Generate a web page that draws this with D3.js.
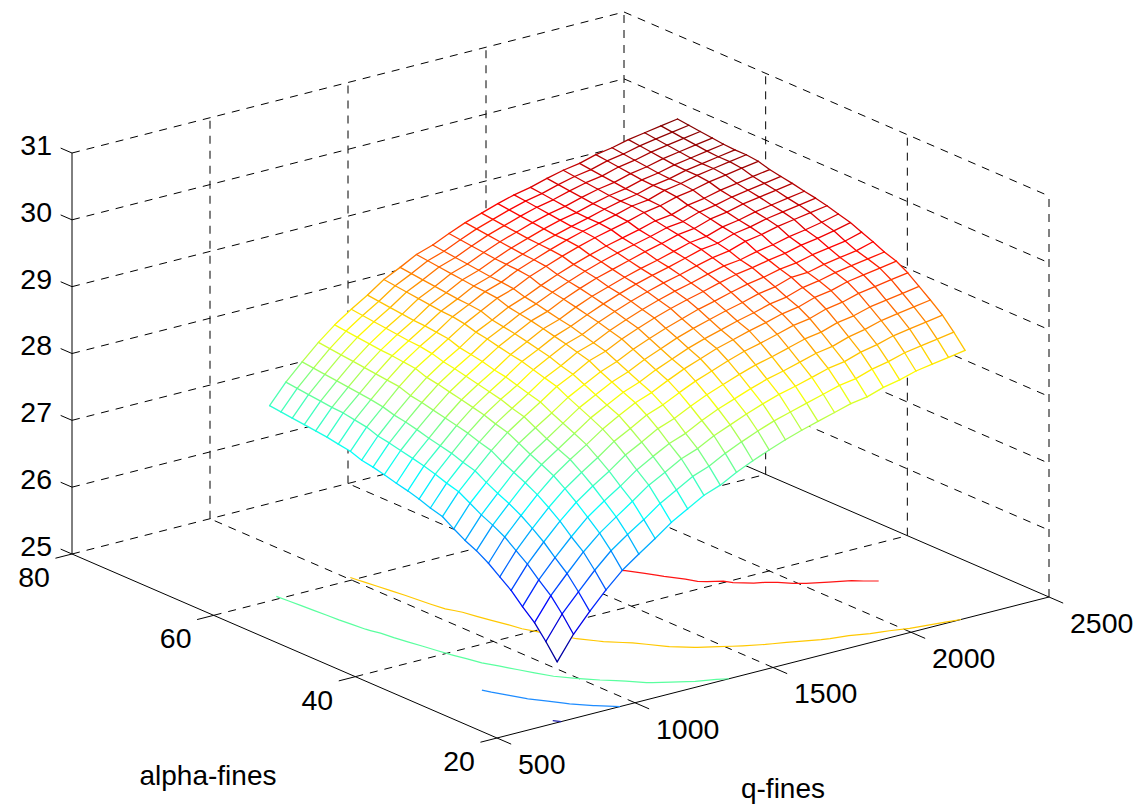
<!DOCTYPE html>
<html>
<head>
<meta charset="utf-8">
<title>q-fines alpha-fines mesh</title>
<script src="https://cdn.jsdelivr.net/npm/d3@7"></script>
<style>
body { margin: 0; background: white; }
text { font-family: "Liberation Sans", Arial, sans-serif; font-size: 28.5px; fill: #000; }
text.title { font-size: 28px; }
</style>
</head>
<body>
<div id="chart"></div>
<script>
const qValues = [718,777,836,895,954,1014,1073,1132,1191,1250,1309,1368,1427,1486,1545,1604,1663,1723,1782,1841,1900,1959,2018,2077,2136,2196];
const alphaValues = [20,21.6,23.2,24.9,26.5,28.1,29.7,31.4,33,34.6,36.2,37.9,39.5,41.1,42.7,44.4,46,47.6,49.2,50.9,52.5,54.1,55.7,57.4,59,60.6];

// one row per alpha value, one column per q value
const zRows = [
    [25.91,26.26,26.54,26.80,27.03,27.21,27.38,27.56,27.70,27.84,27.93,28.06,28.17,28.27,28.36,28.44,28.51,28.58,28.65,28.69,28.77,28.82,28.89,28.93,28.97,29.01],
    [26.14,26.49,26.76,27.02,27.25,27.43,27.59,27.77,27.91,28.05,28.14,28.27,28.38,28.48,28.57,28.64,28.71,28.78,28.85,28.89,28.97,29.02,29.09,29.13,29.17,29.21],
    [26.35,26.69,26.96,27.22,27.44,27.62,27.79,27.97,28.10,28.24,28.33,28.46,28.56,28.66,28.75,28.83,28.89,28.96,29.03,29.07,29.15,29.20,29.27,29.31,29.35,29.39],
    [26.51,26.85,27.12,27.37,27.60,27.78,27.94,28.12,28.26,28.39,28.48,28.61,28.72,28.81,28.90,28.98,29.04,29.11,29.18,29.22,29.30,29.35,29.42,29.46,29.50,29.54],
    [26.68,27.01,27.28,27.53,27.75,27.93,28.09,28.27,28.40,28.54,28.63,28.75,28.86,28.95,29.04,29.12,29.18,29.25,29.32,29.36,29.44,29.48,29.55,29.59,29.63,29.67],
    [26.81,27.14,27.41,27.66,27.88,28.06,28.22,28.40,28.53,28.67,28.76,28.88,28.99,29.08,29.17,29.25,29.31,29.38,29.45,29.49,29.57,29.61,29.68,29.72,29.76,29.80],
    [26.94,27.27,27.53,27.78,28.00,28.18,28.34,28.51,28.65,28.78,28.87,28.99,29.10,29.19,29.28,29.35,29.42,29.48,29.55,29.59,29.67,29.71,29.78,29.82,29.86,29.90],
    [27.05,27.37,27.63,27.88,28.09,28.26,28.43,28.60,28.73,28.86,28.95,29.07,29.17,29.27,29.35,29.42,29.49,29.55,29.62,29.66,29.74,29.78,29.84,29.88,29.92,29.96],
    [27.13,27.45,27.71,27.96,28.17,28.34,28.51,28.68,28.81,28.94,29.03,29.15,29.25,29.35,29.43,29.50,29.57,29.63,29.70,29.74,29.82,29.83,29.89,29.93,29.97,30.04],
    [27.23,27.55,27.80,28.04,28.26,28.43,28.59,28.76,28.89,29.02,29.11,29.23,29.33,29.42,29.50,29.58,29.64,29.71,29.77,29.81,29.87,29.90,29.96,30.00,30.04,30.11],
    [27.34,27.65,27.90,28.14,28.35,28.52,28.68,28.85,28.97,29.11,29.19,29.31,29.41,29.50,29.58,29.65,29.71,29.78,29.84,29.88,29.93,29.97,30.03,30.07,30.12,30.18],
    [27.39,27.70,27.95,28.19,28.40,28.57,28.73,28.90,29.02,29.16,29.24,29.36,29.46,29.55,29.63,29.70,29.76,29.83,29.89,29.92,29.98,30.02,30.08,30.12,30.17,30.23],
    [27.45,27.76,28.01,28.25,28.46,28.63,28.78,28.95,29.08,29.21,29.29,29.41,29.51,29.60,29.68,29.75,29.81,29.88,29.94,29.98,30.06,30.10,30.16,30.20,30.24,30.28],
    [27.50,27.81,28.05,28.29,28.50,28.67,28.83,29.00,29.12,29.25,29.34,29.45,29.55,29.64,29.72,29.79,29.85,29.92,29.99,30.02,30.10,30.14,30.20,30.24,30.28,30.32],
    [27.54,27.85,28.09,28.33,28.54,28.71,28.86,29.03,29.16,29.29,29.37,29.49,29.59,29.67,29.75,29.82,29.88,29.95,30.02,30.05,30.13,30.17,30.23,30.27,30.31,30.35],
    [27.59,27.89,28.14,28.37,28.58,28.75,28.91,29.07,29.20,29.33,29.41,29.53,29.63,29.72,29.79,29.86,29.93,29.99,30.06,30.09,30.17,30.21,30.27,30.31,30.35,30.39],
    [27.63,27.93,28.18,28.41,28.62,28.79,28.94,29.11,29.23,29.36,29.45,29.56,29.66,29.75,29.83,29.90,29.96,30.02,30.09,30.12,30.20,30.24,30.30,30.34,30.38,30.42],
    [27.66,27.96,28.21,28.44,28.65,28.82,28.97,29.14,29.26,29.39,29.48,29.59,29.69,29.78,29.86,29.93,29.99,30.05,30.12,30.15,30.23,30.27,30.33,30.37,30.41,30.45],
    [27.72,28.02,28.26,28.50,28.71,28.87,29.03,29.19,29.32,29.45,29.53,29.65,29.74,29.83,29.91,29.98,30.04,30.10,30.17,30.21,30.28,30.32,30.38,30.42,30.46,30.50],
    [27.75,28.05,28.29,28.52,28.73,28.90,29.05,29.22,29.34,29.47,29.55,29.67,29.76,29.85,29.93,30.00,30.06,30.12,30.19,30.22,30.30,30.34,30.40,30.44,30.48,30.52],
    [27.78,28.08,28.31,28.54,28.75,28.91,29.07,29.23,29.35,29.48,29.56,29.68,29.77,29.86,29.93,30.00,30.06,30.13,30.19,30.23,30.30,30.34,30.40,30.44,30.48,30.52],
    [27.80,28.09,28.33,28.56,28.76,28.93,29.08,29.25,29.37,29.50,29.58,29.69,29.79,29.87,29.95,30.02,30.07,30.14,30.20,30.24,30.31,30.35,30.41,30.45,30.49,30.53],
    [27.82,28.11,28.35,28.58,28.78,28.95,29.10,29.27,29.39,29.52,29.60,29.71,29.81,29.89,29.97,30.04,30.09,30.16,30.22,30.26,30.33,30.37,30.43,30.47,30.51,30.55],
    [27.84,28.13,28.37,28.60,28.80,28.97,29.12,29.29,29.41,29.54,29.62,29.73,29.83,29.91,29.99,30.06,30.11,30.18,30.24,30.28,30.35,30.39,30.45,30.49,30.53,30.57],
    [27.86,28.15,28.39,28.62,28.82,28.99,29.14,29.31,29.43,29.56,29.64,29.75,29.85,29.93,30.01,30.08,30.13,30.20,30.26,30.30,30.37,30.41,30.47,30.51,30.55,30.59],
    [27.88,28.17,28.41,28.64,28.84,29.01,29.16,29.33,29.45,29.58,29.66,29.77,29.87,29.95,30.03,30.10,30.15,30.22,30.28,30.32,30.39,30.43,30.49,30.53,30.57,30.61]
];

const qTicks = [500, 1000, 1500, 2000, 2500];
const alphaTicks = [20, 40, 60, 80];
const zTicks = [25, 26, 27, 28, 29, 30, 31];
const contourLevels = [26, 27, 28, 29, 30];
const contourColors = ["#1e1eaa", "#1e8cff", "#5aff9f", "#ffc800", "#ff1414"];

const width = 1136, height = 806;
const origin = {x: 497, y: 738};

// the box is drawn in a fixed parallel view: each data axis moves both screen x and y
const qToX = d3.scaleLinear().domain([500, 2500]).range([0, 552]);
const qToY = d3.scaleLinear().domain([500, 2500]).range([0, -141]);
const aToX = d3.scaleLinear().domain([20, 80]).range([0, -425]);
const aToY = d3.scaleLinear().domain([20, 80]).range([0, -184]);
const zToY = d3.scaleLinear().domain([25, 31]).range([0, -401]);

function project(q, a, z) {
    return [origin.x + qToX(q) + aToX(a), origin.y + qToY(q) + aToY(a) + zToY(z)];
}

// jet colormap stops over the range of the surface
const zMin = d3.min(zRows.flat()), zMax = d3.max(zRows.flat());
const jetStops = [0, 0.125, 0.375, 0.625, 0.875, 1];
const jetColors = ["#000080", "#0000ff", "#00ffff", "#ffff00", "#ff0000", "#800000"];
const color = d3.scaleLinear()
    .domain(jetStops.map(t => zMin + t * (zMax - zMin)))
    .range(jetColors);
const contourColor = d3.scaleOrdinal().domain(contourLevels).range(contourColors);

const svg = d3.select("#chart").append("svg")
    .attr("width", width)
    .attr("height", height)
    .style("display", "block");

function addLine(g, p0, p1, dashed) {
    g.append("line")
        .attr("x1", p0[0]).attr("y1", p0[1])
        .attr("x2", p1[0]).attr("y2", p1[1])
        .attr("stroke", "#000")
        .attr("stroke-width", 1)
        .attr("stroke-dasharray", dashed ? "8 7" : null);
}

// dashed grid on floor and walls
const grid = svg.append("g");
qTicks.slice(1, -1).forEach(q => {
    addLine(grid, project(q, 20, 25), project(q, 80, 25), true);
    addLine(grid, project(q, 80, 25), project(q, 80, 31), true);
});
alphaTicks.slice(1, -1).forEach(a => {
    addLine(grid, project(500, a, 25), project(2500, a, 25), true);
    addLine(grid, project(2500, a, 25), project(2500, a, 31), true);
});
addLine(grid, project(2500, 80, 25), project(2500, 80, 31), true);
addLine(grid, project(2500, 20, 25), project(2500, 20, 31), true);
zTicks.slice(1).forEach(z => {
    addLine(grid, project(500, 80, z), project(2500, 80, z), true);
    addLine(grid, project(2500, 80, z), project(2500, 20, z), true);
});
addLine(grid, project(500, 80, 25), project(2500, 80, 25), true);

// solid axis lines and tick marks
const axes = svg.append("g");
addLine(axes, project(500, 80, 25), project(500, 80, 31), false);
addLine(axes, project(500, 20, 25), project(500, 80, 25), false);
addLine(axes, project(500, 20, 25), project(2500, 20, 25), false);
addLine(axes, project(2500, 80, 25), project(2500, 20, 25), false);
qTicks.forEach(q => addLine(axes, project(q, 20, 25), project(q, 18, 25), false));
alphaTicks.forEach(a => addLine(axes, project(500, a, 25), project(440, a, 25), false));
zTicks.forEach(z => addLine(axes, project(500, 80, z), project(500, 81.6, z), false));

// contour lines lying on the floor
const nq = qValues.length, na = alphaValues.length;
const qFromGrid = d3.scaleLinear().domain(d3.range(nq)).range(qValues);
const aFromGrid = d3.scaleLinear().domain(d3.range(na)).range(alphaValues);
const contourLine = d3.line();

function insideGrid(p) {
    return p[0] >= 0.5 && p[0] <= nq - 0.5 && p[1] >= 0.5 && p[1] <= na - 0.5;
}

// d3.contours closes its rings along the border of the grid, keep only the open part
function openPieces(ring) {
    const pts = ring.slice(0, -1);
    const start = pts.findIndex(p => !insideGrid(p));
    const rotated = start < 0 ? pts : pts.slice(start).concat(pts.slice(0, start));
    const pieces = [];
    let cur = [];
    rotated.forEach(p => {
        if (insideGrid(p)) {
            cur.push(p);
        } else if (cur.length) {
            pieces.push(cur);
            cur = [];
        }
    });
    if (cur.length) pieces.push(cur);
    return pieces;
}

const contours = d3.contours().size([nq, na]).thresholds(contourLevels)(zRows.flat());
const contourG = svg.append("g").attr("fill", "none").attr("stroke-width", 1.2);
contours.forEach(c => {
    c.coordinates.forEach(poly => poly.forEach(ring => {
        openPieces(ring).forEach(piece => {
            const pts = piece.map(p => project(qFromGrid(p[0] - 0.5), aFromGrid(p[1] - 0.5), 25));
            contourG.append("path")
                .attr("d", contourLine(pts))
                .attr("stroke", contourColor(c.value));
        });
    }));
});

// mesh: white cells hide what is behind, then coloured edges on top
const node = (i, j) => project(qValues[i], alphaValues[j], zRows[j][i]);
const cells = [], edges = [];
for (let j = na - 1; j >= 0; j--) {
    for (let i = nq - 1; i >= 0; i--) {
        if (i < nq - 1 && j < na - 1) cells.push([node(i, j), node(i + 1, j), node(i + 1, j + 1), node(i, j + 1)]);
        if (i < nq - 1) edges.push({p0: node(i, j), p1: node(i + 1, j), z: (zRows[j][i] + zRows[j][i + 1]) / 2});
        if (j < na - 1) edges.push({p0: node(i, j), p1: node(i, j + 1), z: (zRows[j][i] + zRows[j + 1][i]) / 2});
    }
}

svg.append("g").selectAll("polygon")
    .data(cells)
    .join("polygon")
    .attr("points", d => d.join(" "))
    .attr("fill", "white");

svg.append("g").selectAll("line")
    .data(edges)
    .join("line")
    .attr("x1", d => d.p0[0]).attr("y1", d => d.p0[1])
    .attr("x2", d => d.p1[0]).attr("y2", d => d.p1[1])
    .attr("stroke", d => color(d.z))
    .attr("stroke-width", 1.3)
    .attr("stroke-linecap", "round");

// tick labels and axis titles
const labels = svg.append("g");
zTicks.forEach(z => {
    const p = project(500, 80, z);
    labels.append("text").attr("x", p[0] - 20).attr("y", p[1] - 8)
        .attr("dy", "0.35em").attr("text-anchor", "end").text(z);
});
alphaTicks.forEach(a => {
    const p = project(500, a, 25);
    labels.append("text").attr("x", p[0] - 38).attr("y", p[1] + 23)
        .attr("dy", "0.35em").attr("text-anchor", "middle").text(a);
});
qTicks.forEach(q => {
    const p = project(q, 20, 25);
    labels.append("text").attr("x", p[0] + 21).attr("y", p[1] + 26)
        .attr("dy", "0.35em").attr("text-anchor", "start").text(q);
});
labels.append("text").attr("class", "title").attr("x", 208).attr("y", 775).attr("dy", "0.35em")
    .attr("text-anchor", "middle").text("alpha-fines");
labels.append("text").attr("class", "title").attr("x", 783).attr("y", 788).attr("dy", "0.35em")
    .attr("text-anchor", "middle").text("q-fines");
</script>
</body>
</html>
